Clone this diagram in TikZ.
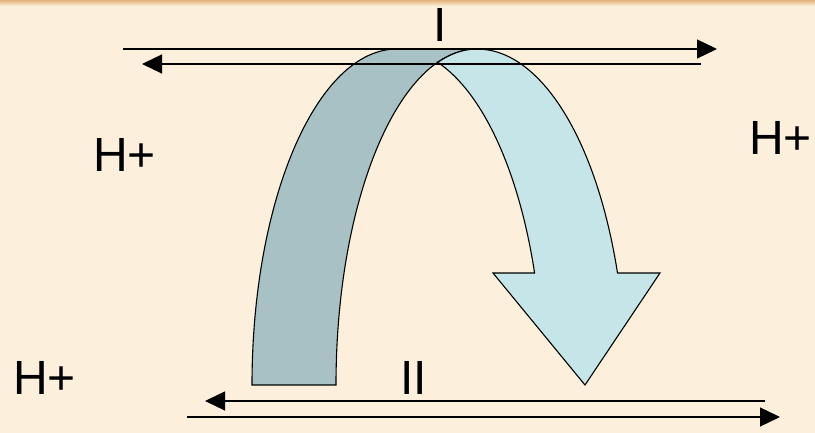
\documentclass[tikz,border=0pt]{standalone}
\usepackage{fontspec}
\setmainfont{Liberation Sans}
\usetikzlibrary{arrows.meta}
\definecolor{BgColor}{RGB}{252,240,220}
\definecolor{RimColor}{RGB}{226,178,122}
\definecolor{BackBandColor}{RGB}{167,193,197}
\definecolor{FrontBandColor}{RGB}{197,229,232}
\tikzset{
    band/.style={
        draw=black,
        line width=1.1pt,
        line join=miter
    },
    back/.style={band, fill=BackBandColor},
    front/.style={band, fill=FrontBandColor},
    flow/.style={-{Triangle[length=20pt, width=19pt]}, line width=1.3pt, draw=black},
    lbl/.style={inner sep=0pt, anchor=base west, font=\fontsize{48}{48}\selectfont}
}

\begin{document}
\begin{tikzpicture}[x=1pt, y=1pt]

% Background
\fill[BgColor] (0,0) rectangle (815,433);
\shade[top color=RimColor, bottom color=BgColor] (0,427) rectangle (815,433);
\useasboundingbox (0,0) rectangle (815,433);

% Curved arrow, back part
\draw[back] (252,48) arc[start angle=180, end angle=90, x radius=145, y radius=336]
    -- (477,384) arc[start angle=90, end angle=180, x radius=141, y radius=336] -- cycle;

% Curved arrow, front part with head
\draw[front] (437.7,370.6) arc[start angle=106.2, end angle=90, x radius=141, y radius=336]
    arc[start angle=90, end angle=19.47, x radius=149, y radius=336]
    -- (660,160) -- (585,48) -- (493,160) -- (534.6,160)
    arc[start angle=19.47, end angle=73.8, x radius=146, y radius=336] -- cycle;

% Membrane I
\coordinate (topR_from) at (123,384);
\coordinate (topR_to) at (717,384);
\coordinate (topL_from) at (701,369);
\coordinate (topL_to) at (142,369);
\draw[flow] (topR_from) -- (topR_to);
\draw[flow] (topL_from) -- (topL_to);

% Membrane II
\coordinate (botL_from) at (765,32);
\coordinate (botL_to) at (205,32);
\coordinate (botR_from) at (187,16);
\coordinate (botR_to) at (780,16);
\draw[flow] (botL_from) -- (botL_to);
\draw[flow] (botR_from) -- (botR_to);

% Labels
\node[lbl] (t_one) at (433,391) {I};
\node[lbl] (t_two) at (400,38) {II};
\node[lbl] (h_left) at (93,261) {H+};
\node[lbl] (h_right) at (749,278) {H+};
\node[lbl] (h_bottom) at (13,38) {H+};

\end{tikzpicture}
\end{document}
